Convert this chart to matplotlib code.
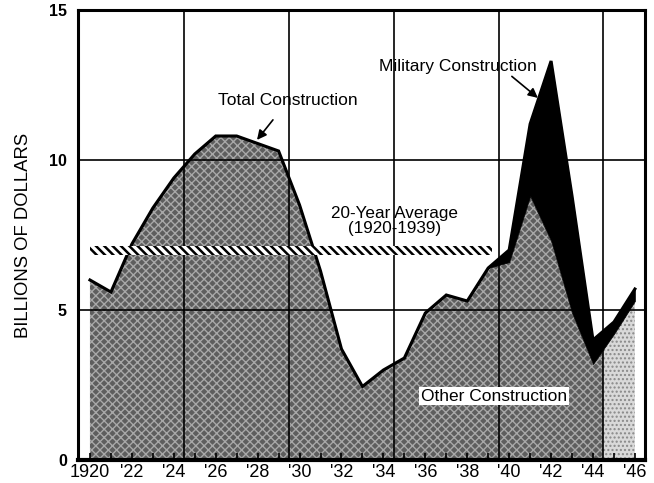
import matplotlib
matplotlib.use("Agg")
import matplotlib.pyplot as plt
import matplotlib.patches as patches
import numpy as np

years = list(range(1920, 1947))
total = [6.0, 5.6, 7.2, 8.4, 9.4, 10.2, 10.8, 10.8, 10.55, 10.3, 8.5, 6.3, 3.7,
         2.45, 3.0, 3.4, 4.9, 5.5, 5.3, 6.4, 7.0, 11.2, 13.3, 8.8, 4.0, 4.6, 5.7]
other = [6.0, 5.6, 7.2, 8.4, 9.4, 10.2, 10.8, 10.8, 10.55, 10.3, 8.5, 6.3, 3.7,
         2.45, 3.0, 3.4, 4.9, 5.5, 5.3, 6.4, 6.6, 8.8, 7.3, 4.9, 3.2, 4.2, 5.3]
avg_value = 7.0
avg_span = (1920, 1939.2)
war_end = 1944.5

tick_years = list(range(1920, 1947, 2))
tick_labels = ["1920"] + ["'%d" % (y % 100) for y in tick_years[1:]]

plt.rcParams['font.family'] = ['Liberation Sans', 'DejaVu Sans']
plt.rcParams['hatch.linewidth'] = 1.0

fig = plt.figure(figsize=(6.54, 4.83), dpi=100)
ax = fig.add_axes([0.1193, 0.0476, 0.8669, 0.9317])
ax.set_xlim(1919.43, 1946.48)
ax.set_ylim(0, 15)

# other construction, dark stipple up to end of war, light afterwards
dark = ax.fill_between(years, 0, other, facecolor='#5e5e5e', hatch='xxxx',
                       edgecolor='#a8a8a8', linewidth=0, zorder=1)
dark.set_clip_path(patches.Rectangle((1910, -1), war_end - 1910, 20, transform=ax.transData))
light = ax.fill_between(years, 0, other, facecolor='#d9d9d9', hatch='....',
                        edgecolor='#888888', linewidth=0, zorder=1)
light.set_clip_path(patches.Rectangle((war_end, -1), 10, 20, transform=ax.transData))

# military construction
ax.fill_between(years, other, total, facecolor='black', edgecolor='black',
                linewidth=0.5, zorder=2)
ax.plot(years, total, color='black', lw=2.2, solid_joinstyle='miter', zorder=4)

# grid
for y in [5, 10]:
    ax.axhline(y, color='black', lw=1.2, zorder=3)
for x in [1924.5, 1929.5, 1934.5, 1939.5, 1944.5]:
    ax.axvline(x, color='black', lw=1.2, zorder=3)

# 20 year average band
plt.rcParams['hatch.linewidth'] = 1.8
band = patches.Rectangle((avg_span[0], avg_value - 0.15), avg_span[1] - avg_span[0], 0.3,
                         facecolor='white', edgecolor='black', hatch='\\\\\\\\',
                         linewidth=0, zorder=5)
ax.add_patch(band)

ax.text(1934.55, 7.97, "20-Year Average\n(1920-1939)", ha='center', va='center',
        fontsize=12.3, linespacing=1.0, zorder=6)
ax.annotate("Total Construction", xy=(1927.97, 10.67), xytext=(1929.45, 11.97),
            ha='center', va='center', fontsize=12.5, zorder=6,
            arrowprops=dict(arrowstyle='-|>', color='black', lw=1.2,
                            mutation_scale=14, shrinkA=8, shrinkB=0))
ax.annotate("Military Construction", xy=(1941.37, 12.07), xytext=(1937.56, 13.13),
            ha='center', va='center', fontsize=12.5, zorder=6,
            arrowprops=dict(arrowstyle='-|>', color='black', lw=1.2,
                            mutation_scale=14, shrinkA=0, shrinkB=0,
                            relpos=(0.82, 0.0)))
ax.text(1939.27, 2.13, "Other Construction", ha='center', va='center', fontsize=12.5,
        zorder=6, bbox=dict(boxstyle='square,pad=0.1', facecolor='white', edgecolor='none'))

ax.set_yticks([0, 5, 10, 15])
ax.set_yticklabels(['0', '5', '10', '15'], fontsize=11.5, fontweight='bold')
ax.set_xticks(tick_years)
ax.set_xticklabels(tick_labels, fontsize=13)
ax.set_xticks(years, minor=True)
ax.tick_params(axis='y', length=0, pad=8)
ax.tick_params(axis='x', which='both', direction='in', length=5, width=1.2, pad=3)
ax.set_ylabel("BILLIONS OF DOLLARS", fontsize=13.3, labelpad=12)

for s in ax.spines.values():
    s.set_linewidth(2.2)
    s.set_zorder(7)
ax.spines['bottom'].set_linewidth(3)

fig.savefig("out.png", dpi=100)
